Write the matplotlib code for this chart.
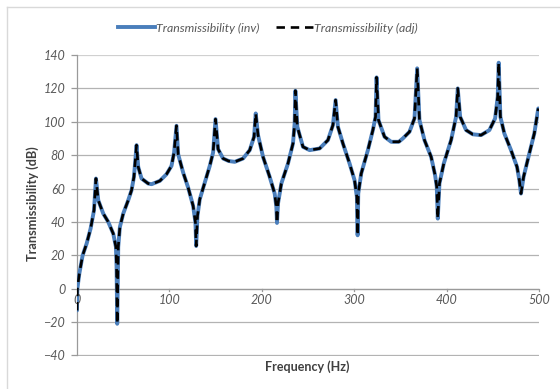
import matplotlib
matplotlib.use("Agg")
import matplotlib.pyplot as plt
from matplotlib.lines import Line2D

plt.rcParams['font.family'] = ['Lato', 'DejaVu Sans']

freq = [0, 0.4, 2.5, 6.1, 10.4, 14.7, 18.4, 20.5, 23, 28.4, 33.8, 39.2, 42.1, 42.8, 43.5,
        44.6, 46.4, 50, 55.4, 59, 61.6, 64.4, 66.2, 69.8, 77, 80.6, 89.6, 96.8, 102.2, 105,
        107.6, 109.4, 114.8, 120.2, 125.6, 128.1, 128.9, 130.3, 132.8, 138.2, 143.6, 147.2,
        149.8, 152.6, 158, 164, 170.6, 179.6, 186.8, 191.5, 193.3, 195.8, 201.2, 208.4, 213.8,
        215.6, 216.3, 217.4, 221, 228.2, 233.6, 235.4, 236.2, 238.3, 244.4, 251.6, 262.4,
        271.4, 276.8, 279.7, 282.2, 287.6, 294.8, 300.2, 302.7, 303.5, 304.2, 307.4, 314.6,
        320, 322.9, 324, 326.1, 332.6, 339.8, 348.1, 352.4, 359.6, 365, 367.9, 370.4, 375.8,
        383, 387.3, 389.1, 390.2, 392, 396.7, 404.6, 410, 411.8, 414.4, 420.8, 428, 437, 446,
        452.2, 455, 456.1, 457.9, 462.2, 469.4, 475.9, 478.4, 480.2, 483, 489.2, 494.6, 498.9]

trans_inv = [-13, 0, 9, 20, 27, 36, 47, 66, 53, 45, 40, 33, 25, 13, -21,
             25, 37, 45, 53, 59, 67, 86, 73, 66, 63, 62.6, 64.6, 68.6, 73.6, 81.6,
             97.6, 80.6, 69.6, 60.6, 49.6, 39.6, 25.6, 43.6, 53.6, 63.6, 73.6, 81.6,
             101.6, 83.6, 78, 76.5, 76, 78, 83, 91, 105, 92, 79, 67, 57,
             49, 39.4, 51, 63, 75, 87, 99, 118.6, 97, 85, 83, 84,
             89, 98, 113, 97, 87, 75, 65, 55, 32, 57, 69, 83,
             95, 103, 126.6, 101, 91, 88, 88, 90, 94, 102, 132, 101, 89,
             79, 68, 61, 42, 63, 75, 89, 103, 120, 103, 95, 92.5, 92, 95,
             102, 115, 135.4, 103, 93, 83, 73, 65, 57, 67, 81, 93, 108]

trans_adj = list(trans_inv)

yticks = [-40, -20, 0, 20, 40, 60, 80, 100, 120, 140]
xticks = [0, 100, 200, 300, 400, 500]

W, H = 560, 389
fig = plt.figure(figsize=(W / 100, H / 100), dpi=100)
ax = fig.add_axes([77 / W, 1 - 355.5 / H, (539.3 - 77) / W, (355.5 - 55) / H])

txtc = '#595959'
gridc = '#b3b3b3'

ax.plot(freq, trans_inv, color='#4a7ebb', lw=2.8, solid_capstyle='round',
        solid_joinstyle='round', zorder=3)
ax.plot(freq, trans_adj, color='black', lw=1.9, dashes=(3.2, 2.2), zorder=4)

ax.set_xlim(0, 500)
ax.set_ylim(-40, 140)
ax.set_yticks(yticks)
ax.set_xticks(xticks)

for v in yticks:
    ax.axhline(v, color=gridc if v != 140 else '#d0d0d0', lw=0.9, zorder=1)

for s in ['top', 'right', 'bottom']:
    ax.spines[s].set_visible(False)
ax.spines['left'].set_color('#9a9a9a')
ax.spines['left'].set_linewidth(0.9)

# x axis crossing at y=0
ax.axhline(0, color='#9a9a9a', lw=0.9, zorder=2)
for xv in xticks:
    ax.plot([xv, xv], [0, -1.6], color='#9a9a9a', lw=0.9, zorder=2, clip_on=False)
    ax.text(xv, -6.5, str(xv), ha='center', va='center', fontsize=9,
            style='italic', color=txtc)
ax.tick_params(axis='x', bottom=False, labelbottom=False)
ax.tick_params(axis='y', length=4.5, width=0.9, color='#9a9a9a', labelsize=9,
               labelcolor=txtc, pad=4)
for lab in ax.get_yticklabels():
    lab.set_style('italic')

fig.text(307.5 / W, 1 - 367 / H, 'Frequency (Hz)', ha='center', va='center',
         fontsize=9, fontweight='bold', color='#404040')
fig.text(33 / W, 1 - 204 / H, 'Transmissibility (dB)', ha='center', va='center',
         rotation=90, fontsize=9.2, fontweight='bold', color='#404040')

handles = [Line2D([], [], color='#4a7ebb', lw=2.8),
           Line2D([], [], color='black', lw=1.9, dashes=(3.2, 2.2))]
leg = fig.legend(handles, ['Transmissibility (inv)', 'Transmissibility (adj)'],
                 loc='center', bbox_to_anchor=(268 / W, 1 - 28 / H), ncol=2,
                 frameon=False, handlelength=3.0, handletextpad=0.1,
                 columnspacing=1.4, prop={'size': 8.8, 'style': 'italic'})
for t in leg.get_texts():
    t.set_color(txtc)

# chart-area border (left and top visible)
fig.add_artist(Line2D([7 / W, 7 / W], [0, 1 - 7 / H], color='#d9d9d9', lw=1))
fig.add_artist(Line2D([7 / W, 1], [1 - 7 / H, 1 - 7 / H], color='#d9d9d9', lw=1))

fig.savefig('out.png', dpi=100)
